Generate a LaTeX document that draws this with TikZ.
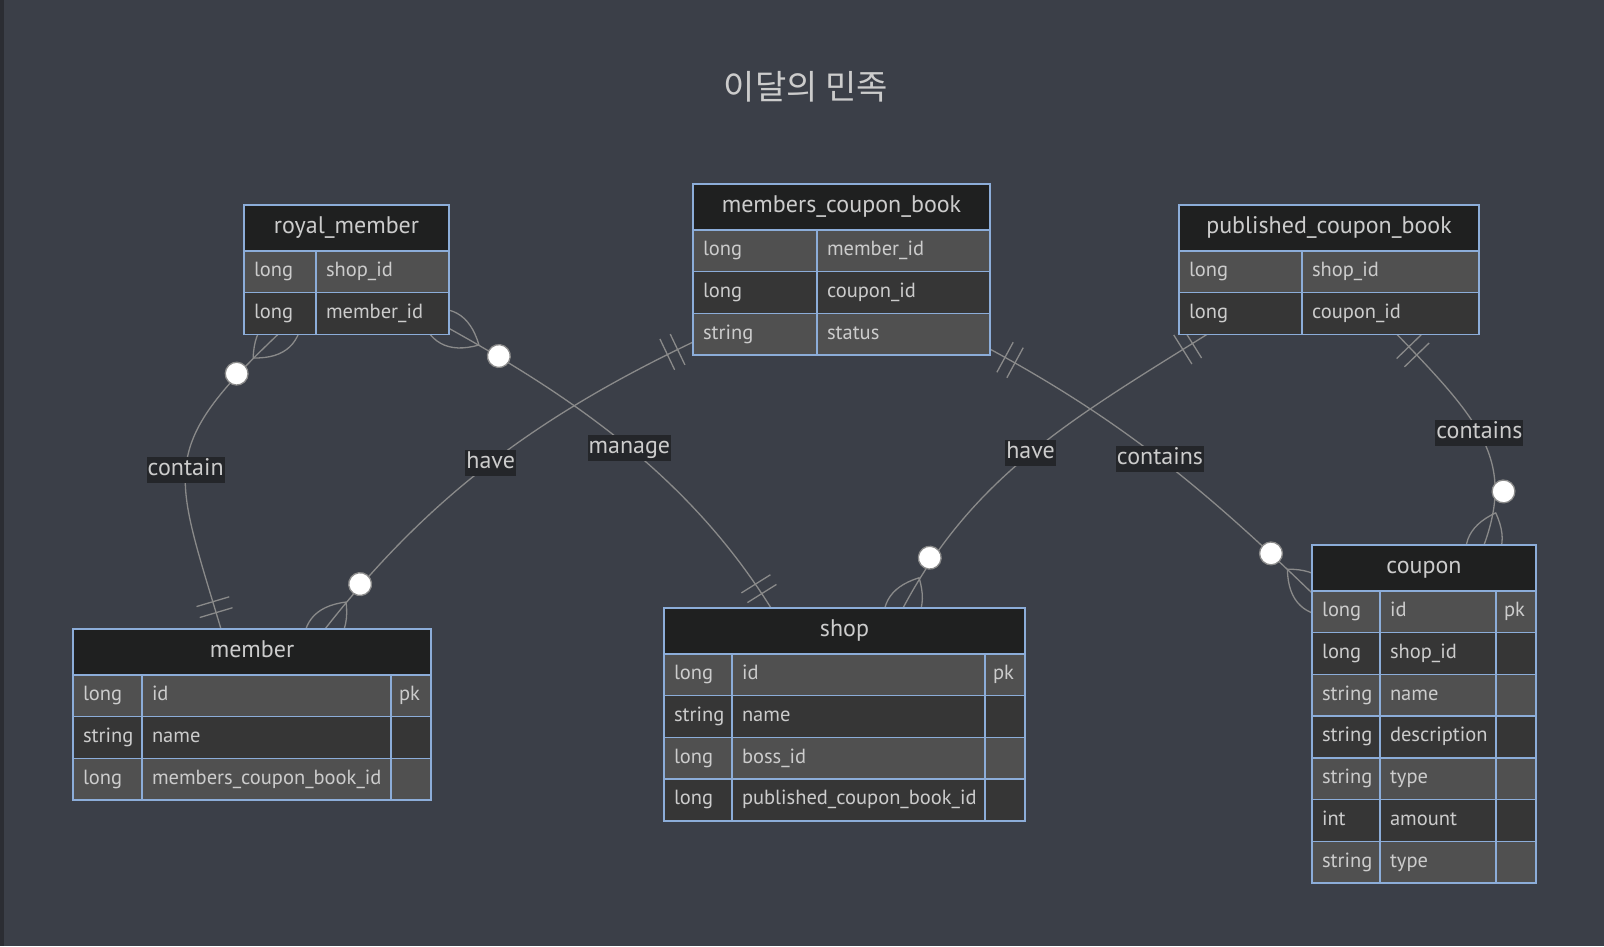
\documentclass[tikz,border=0pt]{standalone}
\usepackage{fontspec}
\setmainfont{PT Sans}
\newfontfamily\krfont{Noto Sans CJK KR}
\usetikzlibrary{positioning,calc,fit}
\definecolor{canvas}{HTML}{3B3F48}
\definecolor{strip}{HTML}{2B2D33}
\definecolor{hdrfill}{HTML}{1F2020}
\definecolor{rowlight}{HTML}{505050}
\definecolor{rowdark}{HTML}{363636}
\definecolor{tblline}{HTML}{8CADD9}
\definecolor{txt}{HTML}{CCCCCC}
\definecolor{relgray}{HTML}{8A8A8A}
\definecolor{lblfill}{HTML}{24262A}
\pgfdeclarelayer{bg}
\pgfdeclarelayer{edges}
\pgfsetlayers{bg,edges,main}
\tikzset{
  frame/.style={draw=tblline,line width=1.4pt,inner sep=0pt,outer sep=0pt},
  hdr/.style={draw=tblline,line width=1.4pt,fill=hdrfill,text=txt,font=\fontsize{24}{28}\selectfont,minimum height=46pt,inner sep=0pt,outer sep=0pt,text height=16pt,text depth=5pt},
  cell/.style={draw=tblline,line width=1.4pt,text=txt,font=\fontsize{20.5}{24}\selectfont,minimum height=41.7pt,inner xsep=10pt,inner ysep=0pt,outer sep=0pt,align=left,text height=14.5pt,text depth=4.5pt},
  keycell/.style={cell,inner xsep=8pt,text width=24pt},
  rel/.style={draw=relgray,line width=1.3pt},
  lbl/.style={fill=lblfill,text=txt,font=\fontsize{24}{28}\selectfont,inner xsep=1pt,inner ysep=2.5pt,text height=16pt,text depth=5pt}
}
% zero or more: #1 end point, #2 direction away from the table
\newcommand\zeromany[2]{%
  \begin{scope}[shift={(#1)},rotate=#2]
    \draw[rel] (-34.2,0) .. controls (-11.4,22.8) and (11.4,22.8) .. (34.2,0)
               .. controls (11.4,-22.8) and (-11.4,-22.8) .. (-34.2,0);
    \draw[rel,fill=white] (57,0) circle (11.4);
  \end{scope}}
% exactly one
\newcommand\onlyone[2]{%
  \begin{scope}[shift={(#1)},rotate=#2]
    \draw[rel] (17.1,-17.1) -- (17.1,17.1) (28.5,-17.1) -- (28.5,17.1);
  \end{scope}}

\begin{document}
\begin{tikzpicture}[x=1pt,y=1pt]
\useasboundingbox (0,0) rectangle (1604,-946);
\begin{pgfonlayer}{bg}
\fill[canvas] (0,0) rectangle (1604,-946);
\fill[strip] (0,0) rectangle (4,-946);
\end{pgfonlayer}

\node[text=txt,font=\krfont\fontsize{34}{40}\selectfont] (title) at (806,-87) {이달의 민족};

% royal_member
\node[hdr,minimum width=205pt,anchor=north west] (royal-h) at (244,-205) {royal\_member};
\foreach \ty/\nm [count=\i] in {long/shop\_id,long/member\_id}{
  \ifodd\i \def\rf{rowlight}\else\def\rf{rowdark}\fi
  \node[cell,fill=\rf,text width=52pt,anchor=north west] (royal-t\i) at ($(royal-h.south west)+(0,{-(\i-1)*41.7})$) {\ty};
  \node[cell,fill=\rf,text width=113pt,anchor=north west] (royal-n\i) at (royal-t\i.north east) {\nm};
}
\node[frame,fit=(royal-h.north west)(royal-n2.south east)] (royal) {};

% members_coupon_book
\node[hdr,minimum width=297pt,anchor=north west] (mcb-h) at (693,-184) {members\_coupon\_book};
\foreach \ty/\nm [count=\i] in {long/member\_id,long/coupon\_id,string/status}{
  \ifodd\i \def\rf{rowlight}\else\def\rf{rowdark}\fi
  \node[cell,fill=\rf,text width=104pt,anchor=north west] (mcb-t\i) at ($(mcb-h.south west)+(0,{-(\i-1)*41.7})$) {\ty};
  \node[cell,fill=\rf,text width=153pt,anchor=north west] (mcb-n\i) at (mcb-t\i.north east) {\nm};
}
\node[frame,fit=(mcb-h.north west)(mcb-n3.south east)] (mcb) {};

% published_coupon_book
\node[hdr,minimum width=300pt,anchor=north west] (pcb-h) at (1179,-205) {published\_coupon\_book};
\foreach \ty/\nm [count=\i] in {long/shop\_id,long/coupon\_id}{
  \ifodd\i \def\rf{rowlight}\else\def\rf{rowdark}\fi
  \node[cell,fill=\rf,text width=103pt,anchor=north west] (pcb-t\i) at ($(pcb-h.south west)+(0,{-(\i-1)*41.7})$) {\ty};
  \node[cell,fill=\rf,text width=157pt,anchor=north west] (pcb-n\i) at (pcb-t\i.north east) {\nm};
}
\node[frame,fit=(pcb-h.north west)(pcb-n2.south east)] (pcb) {};

% member
\node[hdr,minimum width=358pt,anchor=north west] (member-h) at (73,-629) {member};
\foreach \ty/\nm/\ky [count=\i] in {long/id/pk,string/name/{},long/members\_coupon\_book\_id/{}}{
  \ifodd\i \def\rf{rowlight}\else\def\rf{rowdark}\fi
  \node[cell,fill=\rf,text width=49pt,anchor=north west] (member-t\i) at ($(member-h.south west)+(0,{-(\i-1)*41.7})$) {\ty};
  \node[cell,fill=\rf,text width=229pt,anchor=north west] (member-n\i) at (member-t\i.north east) {\nm};
  \node[keycell,fill=\rf,anchor=north west] (member-k\i) at (member-n\i.north east) {\ky};
}
\node[frame,fit=(member-h.north west)(member-k3.south east)] (member) {};

% shop
\node[hdr,minimum width=361pt,anchor=north west] (shop-h) at (664,-608) {shop};
\foreach \ty/\nm/\ky [count=\i] in {long/id/pk,string/name/{},long/boss\_id/{},long/published\_coupon\_book\_id/{}}{
  \ifodd\i \def\rf{rowlight}\else\def\rf{rowdark}\fi
  \node[cell,fill=\rf,text width=48pt,anchor=north west] (shop-t\i) at ($(shop-h.south west)+(0,{-(\i-1)*41.7})$) {\ty};
  \node[cell,fill=\rf,text width=233pt,anchor=north west] (shop-n\i) at (shop-t\i.north east) {\nm};
  \node[keycell,fill=\rf,anchor=north west] (shop-k\i) at (shop-n\i.north east) {\ky};
}
\node[frame,fit=(shop-h.north west)(shop-k4.south east)] (shop) {};

% coupon
\node[hdr,minimum width=224pt,anchor=north west] (coupon-h) at (1312,-545) {coupon};
\foreach \ty/\nm/\ky [count=\i] in {long/id/pk,long/shop\_id/{},string/name/{},string/description/{},string/type/{},int/amount/{},string/type/{}}{
  \ifodd\i \def\rf{rowlight}\else\def\rf{rowdark}\fi
  \node[cell,fill=\rf,text width=48pt,anchor=north west] (coupon-t\i) at ($(coupon-h.south west)+(0,{-(\i-1)*41.7})$) {\ty};
  \node[cell,fill=\rf,text width=96pt,anchor=north west] (coupon-n\i) at (coupon-t\i.north east) {\nm};
  \node[keycell,fill=\rf,anchor=north west] (coupon-k\i) at (coupon-n\i.north east) {\ky};
}
\node[frame,fit=(coupon-h.north west)(coupon-k7.south east)] (coupon) {};

% end points
\coordinate (rm-b) at ([xshift=34]royal.south west);
\coordinate (rm-r) at ([yshift=6]royal.south east);
\coordinate (mcb-l) at ([yshift=13]mcb.south west);
\coordinate (mcb-r) at ([yshift=6]mcb.south east);
\coordinate (pcb-b1) at ([xshift=28]pcb.south west);
\coordinate (pcb-b2) at ([xshift=218]pcb.south west);
\coordinate (mb-t1) at ([xshift=148]member.north west);
\coordinate (mb-t2) at ([xshift=252]member.north west);
\coordinate (sh-t1) at ([xshift=107]shop.north west);
\coordinate (sh-t2) at ([xshift=239]shop.north west);
\coordinate (cp-l) at ([yshift=-48]coupon.north west);
\coordinate (cp-t) at ([xshift=172]coupon.north west);

% relations
\begin{pgfonlayer}{edges}
\draw[rel] (rm-b) .. controls +(223.5:167) and +(106.6:167) .. node[lbl,pos=.52]{contain} (mb-t1);
\draw[rel] (mcb-l) .. controls +(205.5:170) and +(52:170) .. node[lbl]{have} (mb-t2);
\draw[rel] (rm-r) .. controls +(-29:150) and +(122:150) .. node[lbl]{manage} (sh-t1);
\draw[rel] (pcb-b1) .. controls +(212:160) and +(62:150) .. node[lbl]{have} (sh-t2);
\draw[rel] (mcb-r) .. controls +(-28.5:150) and +(136:150) .. node[lbl]{contains} (cp-l);
\draw[rel] (pcb-b2) .. controls +(-46:120) and +(70:90) .. node[lbl,pos=.46]{contains} (cp-t);
\zeromany{rm-b}{223.5} \onlyone{mb-t1}{106.6}
\onlyone{mcb-l}{205.5} \zeromany{mb-t2}{52}
\zeromany{rm-r}{-29} \onlyone{sh-t1}{122}
\onlyone{pcb-b1}{212} \zeromany{sh-t2}{62}
\onlyone{mcb-r}{-28.5} \zeromany{cp-l}{136}
\onlyone{pcb-b2}{-46} \zeromany{cp-t}{70}
\end{pgfonlayer}
\end{tikzpicture}
\end{document}
